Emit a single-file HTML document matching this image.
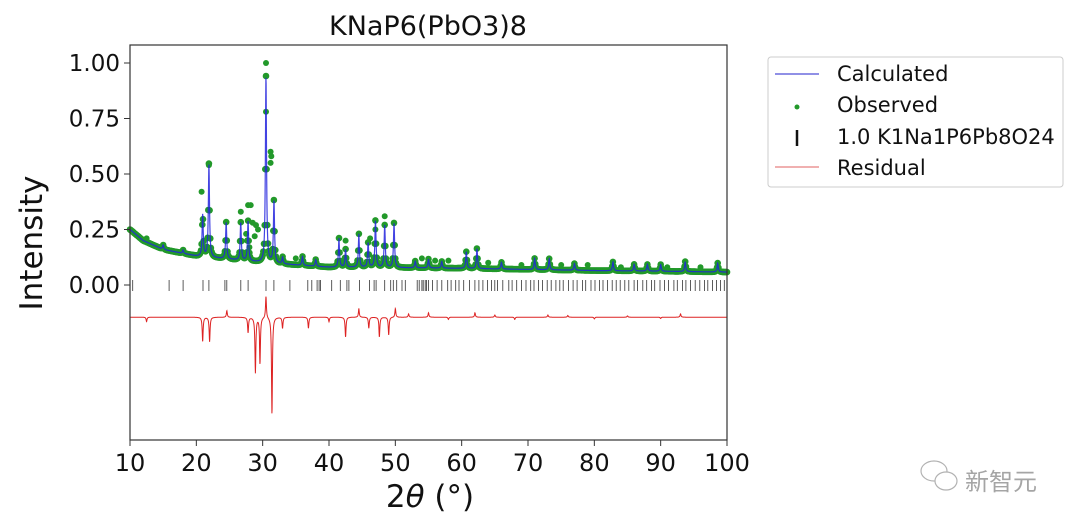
<!DOCTYPE html>
<html><head><meta charset="utf-8"><style>
html,body{margin:0;padding:0;background:#fff;}
body{width:1080px;height:527px;overflow:hidden;font-family:"Liberation Sans","DejaVu Sans",sans-serif;}
</style></head><body>
<svg id="chart" width="1080" height="527" viewBox="0 0 1080 527" xmlns="http://www.w3.org/2000/svg" font-family="DejaVu Sans, Liberation Sans, sans-serif">
<text x="428" y="35" font-size="27" text-anchor="middle" fill="#111">KNaP6(PbO3)8</text>
<g id="plot"></g>
<rect x="130" y="45" width="597" height="395" fill="none" stroke="#333" stroke-width="1.2"/>
<g id="axes"></g>
<text transform="translate(42,243) rotate(-90)" font-size="31" text-anchor="middle" fill="#111">Intensity</text>
<text x="430" y="507" font-size="31" text-anchor="middle" fill="#111">2<tspan font-style="italic">θ</tspan> (°)</text>
<g>
<rect x="768" y="57" width="295" height="130" rx="3" fill="#fff" stroke="#ccc"/>
<line x1="775" y1="74" x2="819" y2="74" stroke="#2222cc" stroke-width="1"/>
<text x="837" y="81" font-size="21" fill="#111">Calculated</text>
<circle cx="797" cy="107" r="2.5" fill="#22992a"/>
<text x="837" y="112" font-size="21" fill="#111">Observed</text>
<line x1="797" y1="130" x2="797" y2="146" stroke="#111" stroke-width="2.5"/>
<text x="837" y="144" font-size="21" fill="#111">1.0 K1Na1P6Pb8O24</text>
<line x1="775" y1="167" x2="819" y2="167" stroke="#e06060" stroke-width="1"/>
<text x="837" y="175" font-size="21" fill="#111">Residual</text>
</g>
<g opacity="0.75">
<ellipse cx="934" cy="471" rx="13" ry="10" fill="none" stroke="#999" stroke-width="1.2"/>
<ellipse cx="946" cy="481" rx="11" ry="9" fill="#fff" stroke="#999" stroke-width="1.2"/>
<text x="965" y="490" font-size="24" fill="#888" font-family="Liberation Sans, Noto Sans CJK SC, sans-serif">新智元</text>
</g>
</svg>
<script>
const peakPos=[15,18,20.96,21.9,24.5,26.7,27.8,30.5,31.7,33,36,38,41.5,42.5,44.5,45.9,47.0,48.4,49.8,53,55,57,60.7,62.3,66,71,73.2,77,82.8,86,88,90,93.7,98.6];
const peakHt=[0.02,0.015,0.19,0.42,0.165,0.17,0.18,0.84,0.28,0.03,0.04,0.03,0.13,0.08,0.15,0.11,0.21,0.19,0.2,0.03,0.04,0.03,0.075,0.09,0.03,0.05,0.05,0.03,0.04,0.03,0.03,0.03,0.045,0.04];
const bgX=[10,12,15,20,25,30,40,50,60,70,80,90,100];
const bgY=[0.25,0.2,0.16,0.13,0.115,0.1,0.08,0.078,0.075,0.07,0.065,0.062,0.058];
const obsExtraX=[30.5,30.5,31.2,31.3,31.2,20.8,21.9,27.8,28.2,26.7,28.5,29.0,29.3,28.8,27.5,28.0,44.5,48.4,46.2,42.5,47.0,12.5,35,38,54,56,58,64,69,75,79,84,91,96];
const obsExtraY=[1.0,0.78,0.6,0.58,0.55,0.42,0.54,0.36,0.36,0.33,0.28,0.27,0.25,0.22,0.23,0.17,0.23,0.31,0.21,0.2,0.25,0.21,0.12,0.1,0.12,0.11,0.11,0.1,0.09,0.09,0.09,0.08,0.08,0.08];
const resPos=[12.5,20.96,22.0,24.6,27.8,28.9,29.6,30.5,31.4,33,36.9,42.5,44.5,47.6,49,50,55,62,73,93,40,46,52,58,65,68,76,80,85,90];
const resAmp=[-0.02,-0.11,-0.11,0.03,-0.07,-0.25,-0.21,0.1,-0.44,-0.05,-0.05,-0.09,0.04,-0.09,-0.08,0.04,0.02,0.02,0.01,0.015,-0.02,-0.05,0.015,-0.01,0.01,-0.01,0.008,-0.008,0.006,-0.006];
const resBase=-0.145;
const reflPos=[10.4,15.9,18.0,21.0,21.9,24.3,24.6,26.7,27.8,30.5,31.7,34.1,36.8,37.4,38.2,38.5,38.7,40.4,41.7,42.7,43.0,44.6,46.1,46.8,47.1,48.4,49.3,49.7,50.2,51.0,51.5,53.3,53.6,54.0,54.2,54.5,54.7,55.0,55.6,56.3,57.0,57.9,58.4,59.1,59.6,60.3,61.2,62.0,62.6,63.2,63.9,64.5,65.0,65.4,66.2,67.1,67.6,68.3,69.0,69.7,70.4,70.9,71.6,72.2,72.9,73.5,74.2,74.8,75.3,76.1,76.8,77.4,78.2,78.7,79.5,80.1,80.8,81.3,82.0,82.7,83.3,83.9,84.6,85.2,86.0,86.5,87.3,87.9,88.6,89.1,89.9,90.6,91.2,92.0,92.5,93.3,93.8,94.5,95.2,95.9,96.6,97.1,97.8,98.4,99.0,99.6];
const xTicks=[10,20,30,40,50,60,70,80,90,100];
const yTicks=[0,0.25,0.5,0.75,1.0];

const NS="http://www.w3.org/2000/svg";
const X=t=>130+(t-10)*597/90;
const Y=v=>285-v*222;
function bg(t){for(let i=0;i<bgX.length-1;i++){if(t<=bgX[i+1]){const f=(t-bgX[i])/(bgX[i+1]-bgX[i]);return bgY[i]+f*(bgY[i+1]-bgY[i]);}}return bgY[bgY.length-1];}
function prof(t,p,h,w){const d=(t-p)/w;return h/(1+d*d);}
function calc(t){let s=bg(t);for(let i=0;i<peakPos.length;i++)s+=prof(t,peakPos[i],peakHt[i],0.1);return s;}
function res(t){let s=resBase;for(let i=0;i<resPos.length;i++)s+=prof(t,resPos[i],resAmp[i],0.08);return s;}
const plot=document.getElementById('plot');
function mk(tag,attrs){const e=document.createElementNS(NS,tag);for(const k in attrs)e.setAttribute(k,attrs[k]);return e;}
const og=mk('g',{fill:'#22992a'});


for(let t=10;t<=100;t+=0.1){const c=mk('circle',{cx:X(t).toFixed(1),cy:Y(calc(t)).toFixed(1),r:3.3});og.appendChild(c);}
for(let i=0;i<obsExtraX.length;i++){const c=mk('circle',{cx:X(obsExtraX[i]).toFixed(1),cy:Y(obsExtraY[i]).toFixed(1),r:3});


og.appendChild(c);}
plot.appendChild(og);
let d='';for(let t=10;t<=100.001;t+=0.03){d+=(d?'L':'M')+X(t).toFixed(1)+','+Y(calc(t)).toFixed(1);}
const cl=mk('path',{d:d,fill:'none',stroke:'#2222dd','stroke-width':1.2,opacity:0.85});


plot.appendChild(cl);
const rg=mk('g',{stroke:'#333','stroke-width':0.8});


reflPos.forEach(p=>{rg.appendChild(mk('line',{x1:X(p).toFixed(1),x2:X(p).toFixed(1),y1:280,y2:291}));});
plot.appendChild(rg);
d='';for(let t=10;t<=100.001;t+=0.03){d+=(d?'L':'M')+X(t).toFixed(1)+','+Y(res(t)).toFixed(1);}
const rl=mk('path',{d:d,fill:'none',stroke:'#dd2222','stroke-width':1});


plot.appendChild(rl);
const ax=document.getElementById('axes');
xTicks.forEach(v=>{ax.appendChild(mk('line',{x1:X(v),x2:X(v),y1:440,y2:446,stroke:'#333'}));
const tx=mk('text',{x:X(v),y:471,'font-size':24,'text-anchor':'middle',fill:'#111'});tx.textContent=v;


ax.appendChild(tx);});
yTicks.forEach(v=>{ax.appendChild(mk('line',{x1:124,x2:130,y1:Y(v),y2:Y(v),stroke:'#333'}));
const tx=mk('text',{x:120,y:Y(v)+8,'font-size':23,'text-anchor':'end',fill:'#111'});tx.textContent=v.toFixed(2);


ax.appendChild(tx);});
</script>
</body></html>
